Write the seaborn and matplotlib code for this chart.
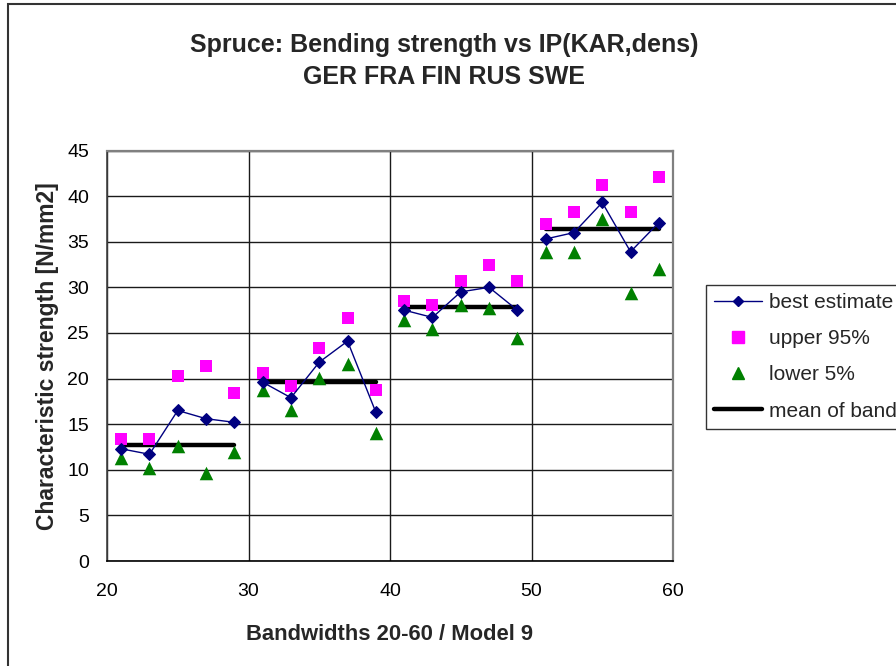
import matplotlib
matplotlib.use("Agg")
import matplotlib.pyplot as plt
from matplotlib.lines import Line2D
from matplotlib.patches import Rectangle
import numpy as np
import pandas as pd
import seaborn as sns

# Bandwidth centres (four bands of five classes each)
bandwidth = [21, 23, 25, 27, 29, 31, 33, 35, 37, 39,
             41, 43, 45, 47, 49, 51, 53, 55, 57, 59]
band = [1] * 5 + [2] * 5 + [3] * 5 + [4] * 5

best_estimate = [12.3, 11.7, 16.5, 15.6, 15.2,
                 19.6, 17.9, 21.8, 24.1, 16.3,
                 27.5, 26.7, 29.5, 30.0, 27.5,
                 35.3, 36.0, 39.3, 33.9, 37.1]
upper_95 = [13.4, 13.4, 20.3, 21.4, 18.4,
            20.6, 19.2, 23.4, 26.6, 18.8,
            28.5, 28.1, 30.7, 32.4, 30.7,
            36.9, 38.3, 41.2, 38.3, 42.1]
lower_5 = [11.3, 10.2, 12.6, 9.6, 12.0,
           18.8, 16.5, 20.1, 21.6, 14.0,
           26.4, 25.4, 28.1, 27.7, 24.4,
           33.9, 33.9, 37.5, 29.4, 32.0]

band_start = [21, 31, 41, 51]
band_end = [29, 39, 49, 59]
band_mean = [12.7, 19.6, 27.8, 36.4]

x_ticks = [20, 30, 40, 50, 60]
y_ticks = [0, 5, 10, 15, 20, 25, 30, 35, 40, 45]

df = pd.DataFrame({"bandwidth": bandwidth, "band": band,
                   "best": best_estimate, "upper": upper_95, "lower": lower_5})
mean_df = pd.DataFrame({
    "bandwidth": band_start + band_end,
    "mean": band_mean + band_mean,
    "band": [1, 2, 3, 4] * 2,
})

sns.set_theme(style="white")
plt.rcParams["font.family"] = ["Liberation Sans", "DejaVu Sans"]

fig = plt.figure(figsize=(8.96, 6.66), dpi=100)
ax = fig.add_axes([107 / 896, 1 - 561 / 666, (673 - 107) / 896, (561 - 150.5) / 666])

navy = "#000080"
magenta = "#FF00FF"
green = "#008000"

# mean of each band
sns.lineplot(data=mean_df, x="bandwidth", y="mean", units="band", estimator=None,
             color="black", linewidth=3.2, ax=ax, zorder=3)
# best estimate, connected within each band
sns.lineplot(data=df, x="bandwidth", y="best", units="band", estimator=None,
             color=navy, linewidth=1.0, marker="D", markersize=6,
             markeredgecolor=navy, markerfacecolor=navy, ax=ax, zorder=5)
sns.scatterplot(data=df, x="bandwidth", y="upper", marker="s", s=70,
                color=magenta, edgecolor=magenta, linewidth=0, ax=ax, zorder=4)
sns.scatterplot(data=df, x="bandwidth", y="lower", marker="^", s=95,
                color=green, edgecolor=green, linewidth=0, ax=ax, zorder=4)

ax.set_xlim(20, 60)
ax.set_ylim(0, 45)
ax.set_xticks(x_ticks)
ax.set_yticks(y_ticks)
ax.grid(True, color="#1a1a1a", linewidth=1.0)
ax.set_axisbelow(True)
for s, c in [("left", "#404040"), ("bottom", "black"), ("top", "#808080"), ("right", "#808080")]:
    ax.spines[s].set_visible(True)
    ax.spines[s].set_color(c)
    ax.spines[s].set_linewidth(1.6 if s in ("top", "right") else 1.2)
ax.tick_params(axis="both", direction="out", length=6, width=1, color="#404040",
               labelsize=14, labelcolor="black")
ax.tick_params(axis="x", pad=10)
ax.tick_params(axis="y", pad=7)

ax.set_xlabel("Bandwidths 20-60 / Model 9", fontsize=15.8, fontweight="bold", labelpad=17)
ax.set_ylabel("Characteristic strength [N/mm2]", fontsize=16.5, fontweight="bold", labelpad=6)

fig.text(444 / 896, 1 - 45 / 666, "Spruce: Bending strength vs IP(KAR,dens)",
         ha="center", va="center", fontsize=18, fontweight="bold")
fig.text(444 / 896, 1 - 77 / 666, "GER FRA FIN RUS SWE",
         ha="center", va="center", fontsize=18, fontweight="bold")

handles = [
    Line2D([], [], color=navy, linewidth=1.0, marker="D", markersize=5),
    Line2D([], [], color="none", marker="s", markersize=8,
           markerfacecolor=magenta, markeredgecolor=magenta),
    Line2D([], [], color="none", marker="^", markersize=9,
           markerfacecolor=green, markeredgecolor=green),
    Line2D([], [], color="black", linewidth=3.2),
]
labels = ["best estimate", "upper 95%", "lower 5%", "mean of band"]
leg = fig.legend(handles, labels, loc="upper left",
                 bbox_to_anchor=(706 / 896, 1 - 285 / 666),
                 frameon=True, fancybox=False, fontsize=15,
                 handlelength=2.3, handletextpad=0.3, labelspacing=0.82,
                 borderpad=0.4, borderaxespad=0)
leg.get_frame().set_edgecolor("black")
leg.get_frame().set_linewidth(1.0)

# chart border
fig.patches.append(Rectangle((8 / 896, -0.05), 1.1, 1 - 4 / 666 + 0.05,
                             transform=fig.transFigure, fill=False,
                             edgecolor="#333333", linewidth=1.5, zorder=0))

fig.savefig("out.png", dpi=100, facecolor="white")
